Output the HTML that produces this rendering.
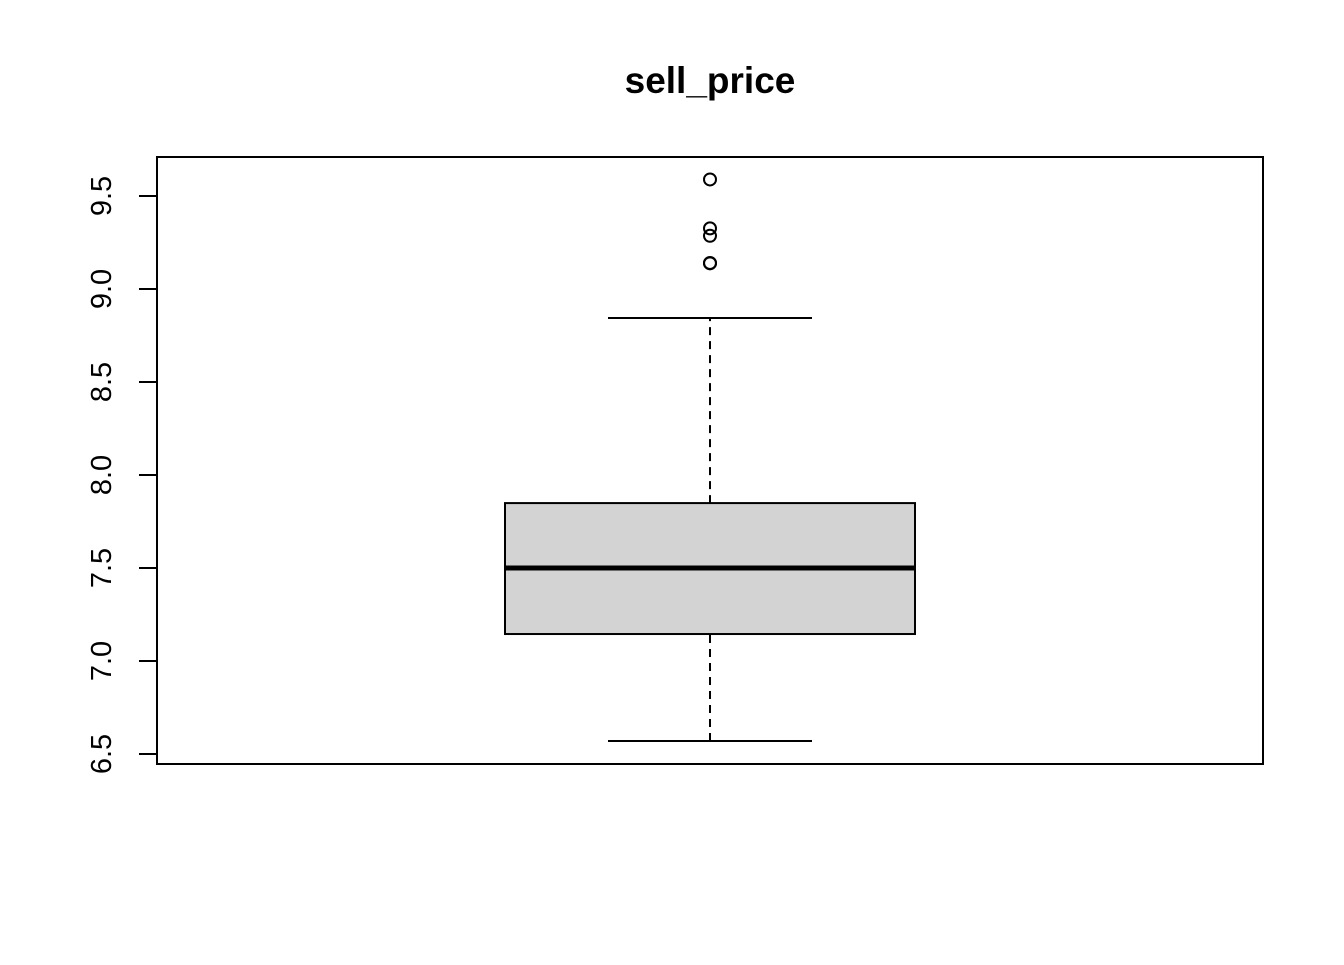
<!DOCTYPE html>
<html><head><meta charset="utf-8"><style>
body{margin:0;background:#fff}
svg text{font-family:"Liberation Sans",Arial,sans-serif}
</style></head><body>
<svg width="1344" height="960">
<text x="710" y="93" text-anchor="middle" font-size="37" font-weight="bold">sell_price</text>
<rect x="157" y="157" width="1106" height="607" fill="none" stroke="#000" stroke-width="2"/>
<g id="yaxis"></g>
<g id="box"></g>
</svg>
<script>
const ticks=[6.5,7.0,7.5,8.0,8.5,9.0,9.5];
const tickLabels=["6.5","7.0","7.5","8.0","8.5","9.0","9.5"];
const stats=[6.57,7.145,7.5,7.849,8.844];
const outliers=[9.589,9.326,9.286,9.138,9.14];
const NS="http://www.w3.org/2000/svg";
function y(v){return 754-(v-6.5)*186;}
function mk(t,a,p){const e=document.createElementNS(NS,t);for(const k in a)e.setAttribute(k,a[k]);p.appendChild(e);return e;}
const ya=document.getElementById('yaxis');
mk('line',{x1:157,x2:157,y1:y(ticks[0]),y2:y(ticks[ticks.length-1]),stroke:'#000','stroke-width':2},ya);
ticks.forEach((t,i)=>{
 const l=mk('line',{x1:139,x2:157,y1:y(t),y2:y(t),stroke:'#000','stroke-width':2},ya);
 
 
 const tx=mk('text',{x:0,y:0,'font-size':29,'text-anchor':'middle',transform:`translate(111,${y(t)}) rotate(-90)`},ya);
 tx.textContent=tickLabels[i];
 
 
});
const b=document.getElementById('box');
const cx=710,hw=205,ww=102;
mk('line',{x1:cx,x2:cx,y1:y(stats[3]),y2:y(stats[4]),stroke:'#000','stroke-width':2,'stroke-dasharray':'8,6'},b);
mk('line',{x1:cx,x2:cx,y1:y(stats[0]),y2:y(stats[1]),stroke:'#000','stroke-width':2,'stroke-dasharray':'8,6'},b);
const w1=mk('line',{x1:cx-ww,x2:cx+ww,y1:y(stats[4]),y2:y(stats[4]),stroke:'#000','stroke-width':2},b);


const w2=mk('line',{x1:cx-ww,x2:cx+ww,y1:y(stats[0]),y2:y(stats[0]),stroke:'#000','stroke-width':2},b);


const r=mk('rect',{x:cx-hw,y:y(stats[3]),width:2*hw,height:y(stats[1])-y(stats[3]),fill:'#d3d3d3',stroke:'#000','stroke-width':2},b);


const m=mk('line',{x1:cx-hw,x2:cx+hw,y1:y(stats[2]),y2:y(stats[2]),stroke:'#000','stroke-width':5},b);


outliers.forEach(o=>{
 const c=mk('circle',{cx:cx,cy:y(o),r:6,fill:'none',stroke:'#000','stroke-width':2},b);
 
 
});
</script>
</body></html>
